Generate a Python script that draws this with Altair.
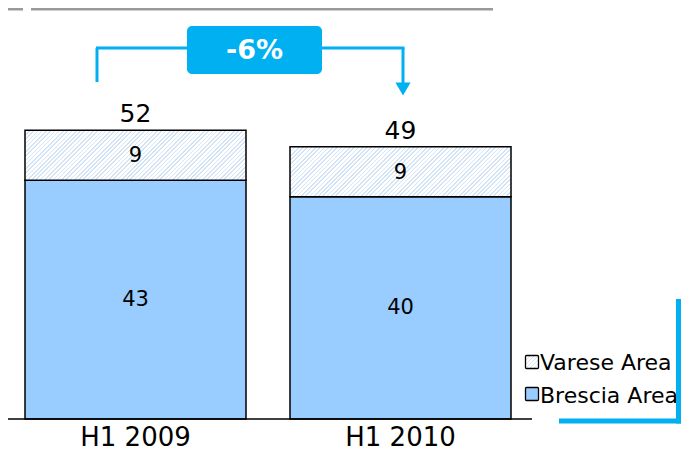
import altair as alt
import pandas as pd

# ---- data ----
periods = ["H1 2009", "H1 2010"]
brescia = [43, 40]
varese = [9, 9]
totals = [52, 49]
legend_labels = ["Varese Area", "Brescia Area"]
change_label = "-6%"

df = pd.DataFrame({"period": periods, "brescia": brescia, "varese": varese, "total": totals})

# ---- layout / style ----
PLOT_W, PLOT_H = 520, 411
Y_MAX = 74
BLUE = "#99CCFF"
ACCENT = "#00B0F0"
FONT = "DejaVu Sans"
px_per_unit = PLOT_H / Y_MAX
band_w = 221.0
seg_h = 9 * px_per_unit


def hatch(w, h, period=4.3, duty=0.38, fg="#D3E4F7", bg="#FFFFFF"):
    k = h / w
    s = 1.25
    n = int(w * s * (1 + k * k) / period) + 1
    stops = []
    for i in range(n):
        a = i / n
        b = (i + duty) / n
        c = (i + 1) / n
        stops += [
            alt.GradientStop(color=fg, offset=a),
            alt.GradientStop(color=fg, offset=b),
            alt.GradientStop(color=bg, offset=b),
            alt.GradientStop(color=bg, offset=c),
        ]
    return alt.LinearGradient(gradient="linear", stops=stops, x1=0, y1=0, x2=s, y2=s * k)


x_enc = alt.X(
    "period:N",
    sort=periods,
    scale=alt.Scale(paddingInner=44 / 265, paddingOuter=17 / 265),
    axis=alt.Axis(title=None, labelAngle=0, labelFontSize=26, labelFont=FONT,
                  labelColor="black", domain=False, ticks=False, labelPadding=5),
)
y_scale = alt.Scale(domain=[0, Y_MAX])

base = alt.Chart(df).encode(x=x_enc)

brescia_bars = base.mark_bar(fill=BLUE, stroke="black", strokeWidth=1.5).encode(
    y=alt.Y("brescia:Q", scale=y_scale, axis=None)
)
varese_bars = base.mark_bar(fill=hatch(band_w, seg_h), stroke="black", strokeWidth=1.5).encode(
    y=alt.Y("total:Q", scale=y_scale, axis=None), y2="brescia:Q"
)
total_labels = base.mark_text(fontSize=25, font=FONT, color="black", dy=-16).encode(
    y=alt.Y("total:Q", scale=y_scale), text="total:Q"
)
varese_labels = base.transform_calculate(mid="datum.brescia + datum.varese / 2").mark_text(
    fontSize=21, font=FONT, color="black", dy=1
).encode(y=alt.Y("mid:Q", scale=y_scale), text="varese:Q")
brescia_labels = base.transform_calculate(mid="datum.brescia / 2").mark_text(
    fontSize=21, font=FONT, color="black"
).encode(y=alt.Y("mid:Q", scale=y_scale), text="brescia:Q")

one = alt.Chart(pd.DataFrame({"k": [0]}))

baseline = one.mark_rule(color="black", strokeWidth=1.5).encode(
    x=alt.value(0), x2=alt.value(524), y=alt.value(PLOT_H)
)

# bracket annotation
br_left = one.mark_rule(color=ACCENT, strokeWidth=3).encode(
    x=alt.value(89), y=alt.value(40), y2=alt.value(74))
br_top = one.mark_rule(color=ACCENT, strokeWidth=3).encode(
    x=alt.value(88), x2=alt.value(396.5), y=alt.value(40))
br_right = one.mark_rule(color=ACCENT, strokeWidth=3).encode(
    x=alt.value(395), y=alt.value(40), y2=alt.value(76))
br_arrow = one.mark_point(shape="triangle-down", filled=True, size=230, color=ACCENT, opacity=1).encode(
    x=alt.value(395), y=alt.value(81))
br_box = one.mark_rect(fill=ACCENT, cornerRadius=5).encode(
    x=alt.value(179), x2=alt.value(314), y=alt.value(18), y2=alt.value(66))
br_text = one.mark_text(text=change_label, fontSize=27, fontWeight="bold", font=FONT,
                        color="white", baseline="middle").encode(x=alt.value(246.5), y=alt.value(43))

# legend
leg_v = one.mark_rect(fill=hatch(13, 13), stroke="black", strokeWidth=1.3, cornerRadius=1).encode(
    x=alt.value(517.5), x2=alt.value(530.5), y=alt.value(347.5), y2=alt.value(360.5))
leg_b = one.mark_rect(fill=BLUE, stroke="black", strokeWidth=1.3, cornerRadius=1).encode(
    x=alt.value(517.5), x2=alt.value(530.5), y=alt.value(379.5), y2=alt.value(392.5))
leg_vt = one.mark_text(text=legend_labels[0], fontSize=22, font=FONT, color="black",
                       align="left", baseline="middle").encode(x=alt.value(532), y=alt.value(355))
leg_bt = one.mark_text(text=legend_labels[1], fontSize=22, font=FONT, color="black",
                       align="left", baseline="middle").encode(x=alt.value(532), y=alt.value(388))

# decorative frame lines
l_vert = one.mark_rule(color=ACCENT, strokeWidth=5).encode(
    x=alt.value(670.5), y=alt.value(291), y2=alt.value(415.5))
l_horiz = one.mark_rule(color=ACCENT, strokeWidth=5).encode(
    x=alt.value(551), x2=alt.value(673), y=alt.value(413))
top1 = one.mark_rule(color="#999999", strokeWidth=3).encode(
    x=alt.value(0), x2=alt.value(15), y=alt.value(1))
top2 = one.mark_rule(color="#999999", strokeWidth=3).encode(
    x=alt.value(23), x2=alt.value(485), y=alt.value(1))

chart = alt.layer(
    brescia_bars, varese_bars, total_labels, varese_labels, brescia_labels, baseline,
    br_left, br_top, br_right, br_arrow, br_box, br_text,
    leg_v, leg_b, leg_vt, leg_bt, l_vert, l_horiz, top1, top2,
).properties(
    width=PLOT_W, height=PLOT_H,
    autosize=alt.AutoSizeParams(type="none"),
    padding={"left": 0, "top": 0, "right": 161, "bottom": 45},
).configure_view(stroke=None)

chart.save("out.html", embed_options={"renderer": "svg", "actions": False})
